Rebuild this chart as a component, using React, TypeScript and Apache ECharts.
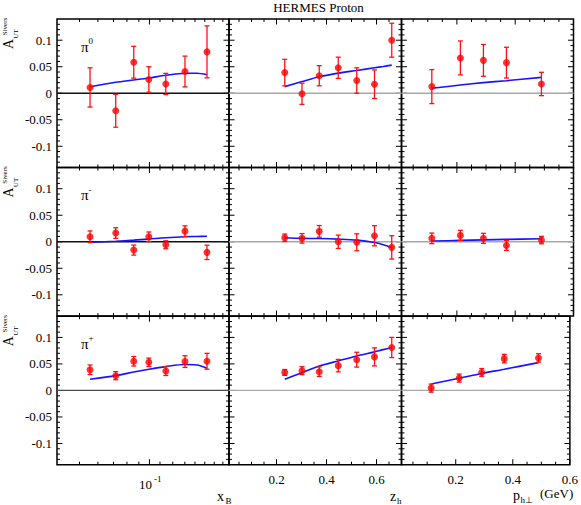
import React, { useEffect, useRef } from "react";
import * as echarts from "echarts";

// ---------- data ----------
const xBValues = [0.0555, 0.0716, 0.0856, 0.0994, 0.1176, 0.1422, 0.1769];
const zhValues = [0.233, 0.302, 0.371, 0.447, 0.521, 0.592, 0.661];
const phtValues = [0.114, 0.212, 0.291, 0.37, 0.49];

// pi0
const pi0XbY = [0.011, -0.033, 0.0585, 0.026, 0.0175, 0.041, 0.078];
const pi0XbErr = [0.037, 0.031, 0.03, 0.024, 0.02, 0.029, 0.049];
const pi0ZhY = [0.039, -0.001, 0.033, 0.048, 0.024, 0.017, 0.1];
const pi0ZhErr = [0.025, 0.02, 0.019, 0.02, 0.024, 0.027, 0.032];
const pi0PtY = [0.0125, 0.0666, 0.062, 0.0577, 0.0175];
const pi0PtErr = [0.032, 0.032, 0.03, 0.029, 0.022];

// pi-
const pimXbY = [0.0094, 0.0164, -0.0157, 0.0094, -0.0057, 0.02, -0.02];
const pimXbErr = [0.011, 0.01, 0.0095, 0.009, 0.0075, 0.01, 0.0135];
const pimZhY = [0.0075, 0.0064, 0.0196, 0.0, -0.001, 0.0113, -0.0106];
const pimZhErr = [0.007, 0.009, 0.011, 0.0126, 0.016, 0.019, 0.022];
const pimPtY = [0.0064, 0.012, 0.0064, -0.0069, 0.0032];
const pimPtErr = [0.01, 0.0095, 0.0095, 0.0094, 0.007];

// pi+
const pipXbY = [0.039, 0.0278, 0.055, 0.053, 0.0367, 0.0544, 0.055];
const pipXbErr = [0.009, 0.0076, 0.009, 0.008, 0.0085, 0.011, 0.015];
const pipZhY = [0.034, 0.0373, 0.0354, 0.0468, 0.058, 0.0633, 0.081];
const pipZhErr = [0.0055, 0.0075, 0.009, 0.0117, 0.014, 0.017, 0.019];
const pipPtY = [0.0044, 0.0233, 0.034, 0.06, 0.0613];
const pipPtErr = [0.0076, 0.0076, 0.0073, 0.008, 0.008];

// model curves
const curveXbX = [0.0555, 0.0716, 0.0856, 0.0994, 0.1176, 0.1422, 0.16, 0.1769];
const pi0XbCurve = [0.0124, 0.0206, 0.025, 0.0288, 0.0338, 0.0376, 0.0378, 0.035];
const pimXbCurve = [-0.001, 0.001, 0.003, 0.005, 0.0075, 0.0095, 0.01, 0.0105];
const pipXbCurve = [0.021, 0.028, 0.0347, 0.04, 0.045, 0.0488, 0.048, 0.042];

const curveZhX = [0.233, 0.302, 0.371, 0.447, 0.521, 0.592, 0.627, 0.661];
const pi0ZhCurve = [0.0125, 0.022, 0.031, 0.038, 0.043, 0.048, 0.0505, 0.053];
const pimZhCurve = [0.0075, 0.0064, 0.006, 0.0049, 0.003, -0.0014, -0.0055, -0.011];
const pipZhCurve = [0.021, 0.0335, 0.046, 0.0557, 0.065, 0.0727, 0.077, 0.081];

const curvePtX = [0.114, 0.212, 0.291, 0.37, 0.49];
const pi0PtCurve = [0.0093, 0.0155, 0.02, 0.0237, 0.03];
const pimPtCurve = [0.0013, 0.0025, 0.0035, 0.0045, 0.0057];
const pipPtCurve = [0.012, 0.023, 0.032, 0.04, 0.0525];

// axis ticks / labels
const yLabelValues = [0.1, 0.05, 0, -0.05, -0.1];
const linXLabelValues = [0.2, 0.4, 0.6];
const xbMajorTicks = [0.1];
const xbMinorTicks = [0.05, 0.06, 0.07, 0.08, 0.09, 0.111, 0.126, 0.142, 0.157, 0.173, 0.19, 0.207];
const zhMinorTicks = [0.05, 0.1, 0.15, 0.25, 0.3, 0.35, 0.45, 0.5, 0.55, 0.65];
const ptMinorTicks = [0.05, 0.1, 0.15, 0.25, 0.3, 0.35, 0.45, 0.5, 0.55];
const hadronSup = ["0", "-", "+"];

// ---------- layout ----------
const SERIF = '"Liberation Serif", "Times New Roman", serif';
const COL_LEFT = [57, 229, 401.5];
const COL_W = [172, 172.5, 172];
const ROW_TOP = [19, 167.5, 316.2];
const ROW_H = 148.5;
const Y_MIN = -0.14;
const Y_MAX = 0.14;

const cols = [
  { type: "log", min: 0.04, max: 0.22, majors: xbMajorTicks, minors: xbMinorTicks },
  { type: "value", min: 0.01, max: 0.7, majors: linXLabelValues, minors: zhMinorTicks },
  { type: "value", min: 0.01, max: 0.6, majors: linXLabelValues, minors: ptMinorTicks },
];

const rows = [
  [
    { x: xBValues, y: pi0XbY, e: pi0XbErr, cx: curveXbX, cy: pi0XbCurve },
    { x: zhValues, y: pi0ZhY, e: pi0ZhErr, cx: curveZhX, cy: pi0ZhCurve },
    { x: phtValues, y: pi0PtY, e: pi0PtErr, cx: curvePtX, cy: pi0PtCurve },
  ],
  [
    { x: xBValues, y: pimXbY, e: pimXbErr, cx: curveXbX, cy: pimXbCurve },
    { x: zhValues, y: pimZhY, e: pimZhErr, cx: curveZhX, cy: pimZhCurve },
    { x: phtValues, y: pimPtY, e: pimPtErr, cx: curvePtX, cy: pimPtCurve },
  ],
  [
    { x: xBValues, y: pipXbY, e: pipXbErr, cx: curveXbX, cy: pipXbCurve },
    { x: zhValues, y: pipZhY, e: pipZhErr, cx: curveZhX, cy: pipZhCurve },
    { x: phtValues, y: pipPtY, e: pipPtErr, cx: curvePtX, cy: pipPtCurve },
  ],
];

function yTickValues() {
  const majors: number[] = [];
  const minors: number[] = [];
  for (let k = -13; k <= 13; k++) {
    const v = k / 100;
    if (k % 5 === 0) majors.push(v);
    else minors.push(v);
  }
  return { majors, minors };
}

function makeTickRenderer(zeroColor: string) {
  return (params: any, api: any) => {
    const cs = params.coordSys;
    const L = cs.x, R = cs.x + cs.width, T = cs.y, B = cs.y + cs.height;
    const kind = api.value(2);
    const p = api.coord([api.value(0), api.value(1)]);
    const st = { stroke: "#000", lineWidth: 1 };
    if (kind === 0 || kind === 1) {
      const len = kind === 1 ? 5.5 : 3;
      return {
        type: "group",
        children: [
          { type: "line", shape: { x1: p[0], y1: B, x2: p[0], y2: B - len }, style: st },
          { type: "line", shape: { x1: p[0], y1: T, x2: p[0], y2: T + len }, style: st },
        ],
      };
    }
    if (kind === 2 || kind === 3) {
      const len = kind === 3 ? 5.5 : 3;
      return {
        type: "group",
        children: [
          { type: "line", shape: { x1: L, y1: p[1], x2: L + len, y2: p[1] }, style: st },
          { type: "line", shape: { x1: R, y1: p[1], x2: R - len, y2: p[1] }, style: st },
        ],
      };
    }
    if (kind === 5) {
      return {
        type: "line",
        shape: { x1: L, y1: p[1], x2: R, y2: p[1] },
        style: { stroke: zeroColor, lineWidth: 1.3 },
      };
    }
    if (kind === 6) {
      return {
        type: "group",
        children: [
          {
            type: "text",
            x: p[0] + 2.5,
            y: B + 20,
            style: { text: "10", font: `13px ${SERIF}`, fill: "#000", textAlign: "right", textVerticalAlign: "middle" },
          },
          {
            type: "text",
            x: p[0] + 4.5,
            y: B + 14,
            style: { text: "-1", font: `9px ${SERIF}`, fill: "#000", textAlign: "left", textVerticalAlign: "middle" },
          },
        ],
      };
    }
    return null;
  };
}

function errRenderer(params: any, api: any) {
  const x = api.value(0), y = api.value(1), e = api.value(2);
  const top = api.coord([x, y + e]);
  const bot = api.coord([x, y - e]);
  const cap = 2.5;
  const st = { stroke: "#ff1010", lineWidth: 1.3 };
  return {
    type: "group",
    children: [
      { type: "line", shape: { x1: top[0], y1: top[1], x2: bot[0], y2: bot[1] }, style: st },
      { type: "line", shape: { x1: top[0] - cap, y1: top[1], x2: top[0] + cap, y2: top[1] }, style: st },
      { type: "line", shape: { x1: bot[0] - cap, y1: bot[1], x2: bot[0] + cap, y2: bot[1] }, style: st },
    ],
  };
}

function buildOption() {
  const grid: any[] = [];
  const xAxis: any[] = [];
  const yAxis: any[] = [];
  const series: any[] = [];
  const yt = yTickValues();

  for (let r = 0; r < 3; r++) {
    for (let c = 0; c < 3; c++) {
      const g = r * 3 + c;
      const col = cols[c];
      const pnl = rows[r][c];
      grid.push({
        left: COL_LEFT[c],
        top: ROW_TOP[r],
        width: COL_W[c],
        height: ROW_H,
        show: true,
        borderColor: "#000",
        borderWidth: 1.5,
        backgroundColor: "transparent",
      });
      const xa: any = {
        gridIndex: g,
        type: col.type,
        min: col.min,
        max: col.max,
        axisLine: { show: false },
        axisTick: { show: false },
        splitLine: { show: false },
        minorTick: { show: false },
        axisLabel: { show: false },
      };
      if (col.type === "log") xa.logBase = 10;
      if (r === 2 && c > 0) {
        xa.axisLabel = {
          show: true,
          customValues: linXLabelValues,
          formatter: (v: number) => v.toFixed(1),
          fontFamily: SERIF,
          fontSize: 13,
          color: "#000",
          margin: 8,
        };
      }
      xAxis.push(xa);
      yAxis.push({
        gridIndex: g,
        type: "value",
        min: Y_MIN,
        max: Y_MAX,
        axisLine: { show: false },
        axisTick: { show: false },
        splitLine: { show: false },
        axisLabel:
          c === 0
            ? {
                show: true,
                customValues: yLabelValues,
                formatter: (v: number) => String(Math.round(v * 100) / 100),
                fontFamily: SERIF,
                fontSize: 13,
                color: "#000",
                margin: 5,
              }
            : { show: false },
      });

      const tickData: any[] = [];
      col.minors.forEach((v) => tickData.push([v, 0, 0]));
      col.majors.forEach((v) => tickData.push([v, 0, 1]));
      yt.minors.forEach((v) => tickData.push([col.min, v, 2]));
      yt.majors.forEach((v) => tickData.push([col.min, v, 3]));
      tickData.push([col.min, 0, 5]);
      if (r === 2 && c === 0) tickData.push([xbMajorTicks[0], Y_MIN, 6]);
      const zeroColor = c === 0 ? (r === 2 ? "#4a4a4a" : "#111") : "#a8a8a8";

      series.push({
        type: "custom",
        xAxisIndex: g,
        yAxisIndex: g,
        silent: true,
        z: 2,
        encode: { x: 0, y: 1 },
        renderItem: makeTickRenderer(zeroColor),
        data: tickData,
      });
      series.push({
        type: "line",
        xAxisIndex: g,
        yAxisIndex: g,
        silent: true,
        z: 3,
        smooth: 0.3,
        symbol: "none",
        showSymbol: false,
        lineStyle: { color: "#1414ff", width: 1.6 },
        data: pnl.cx.map((xv, i) => [xv, pnl.cy[i]]),
      });
      series.push({
        type: "custom",
        xAxisIndex: g,
        yAxisIndex: g,
        silent: true,
        z: 4,
        encode: { x: 0, y: 1 },
        renderItem: errRenderer,
        data: pnl.x.map((xv, i) => [xv, pnl.y[i], pnl.e[i]]),
      });
      series.push({
        type: "scatter",
        xAxisIndex: g,
        yAxisIndex: g,
        silent: true,
        z: 5,
        symbol: "circle",
        symbolSize: 7,
        itemStyle: { color: "#ff0000" },
        data: pnl.x.map((xv, i) => [xv, pnl.y[i]]),
      });
    }
  }

  const txt = (text: string, x: number, y: number, size: number, align = "left", rotation = 0) => ({
    type: "text",
    x,
    y,
    rotation,
    silent: true,
    style: {
      text,
      font: `${size}px ${SERIF}`,
      fill: "#000",
      textAlign: align,
      textVerticalAlign: "middle",
    },
  });

  const graphic: any[] = [];
  graphic.push(txt("HERMES Proton", 318.5, 7, 13, "center"));
  for (let r = 0; r < 3; r++) {
    const off = ROW_TOP[r] - ROW_TOP[0];
    graphic.push(txt("A", 8, 44 + off, 14, "center", Math.PI / 2));
    graphic.push(txt("Sivers", 5, 26.5 + off, 7, "center", Math.PI / 2));
    graphic.push(txt("UT", 15.5, 34 + off, 7, "center", Math.PI / 2));
    graphic.push(txt("π", 81, ROW_TOP[r] + 27.5, 15));
    graphic.push(txt(hadronSup[r], 88.5, ROW_TOP[r] + 22, 9));
  }
  graphic.push(txt("x", 217, 496, 14));
  graphic.push(txt("B", 225.5, 501, 9));
  graphic.push(txt("z", 390, 496, 14));
  graphic.push(txt("h", 397, 500.5, 9));
  graphic.push(txt("p", 513, 495, 14));
  graphic.push(txt("h⊥", 520.5, 500, 9));
  graphic.push(txt("(GeV)", 540, 493, 13));

  return {
    animation: false,
    backgroundColor: "#fff",
    grid,
    xAxis,
    yAxis,
    series,
    graphic,
  };
}

export default function App() {
  const ref = useRef<HTMLDivElement>(null);
  useEffect(() => {
    if (!ref.current) return;
    const chart = echarts.init(ref.current, null, { renderer: "svg" });
    chart.setOption(buildOption() as any);
    return () => chart.dispose();
  }, []);
  return (
    <div
      ref={ref}
      style={{ position: "absolute", left: 0, top: 0, width: 581, height: 505, background: "#fff" }}
    />
  );
}
